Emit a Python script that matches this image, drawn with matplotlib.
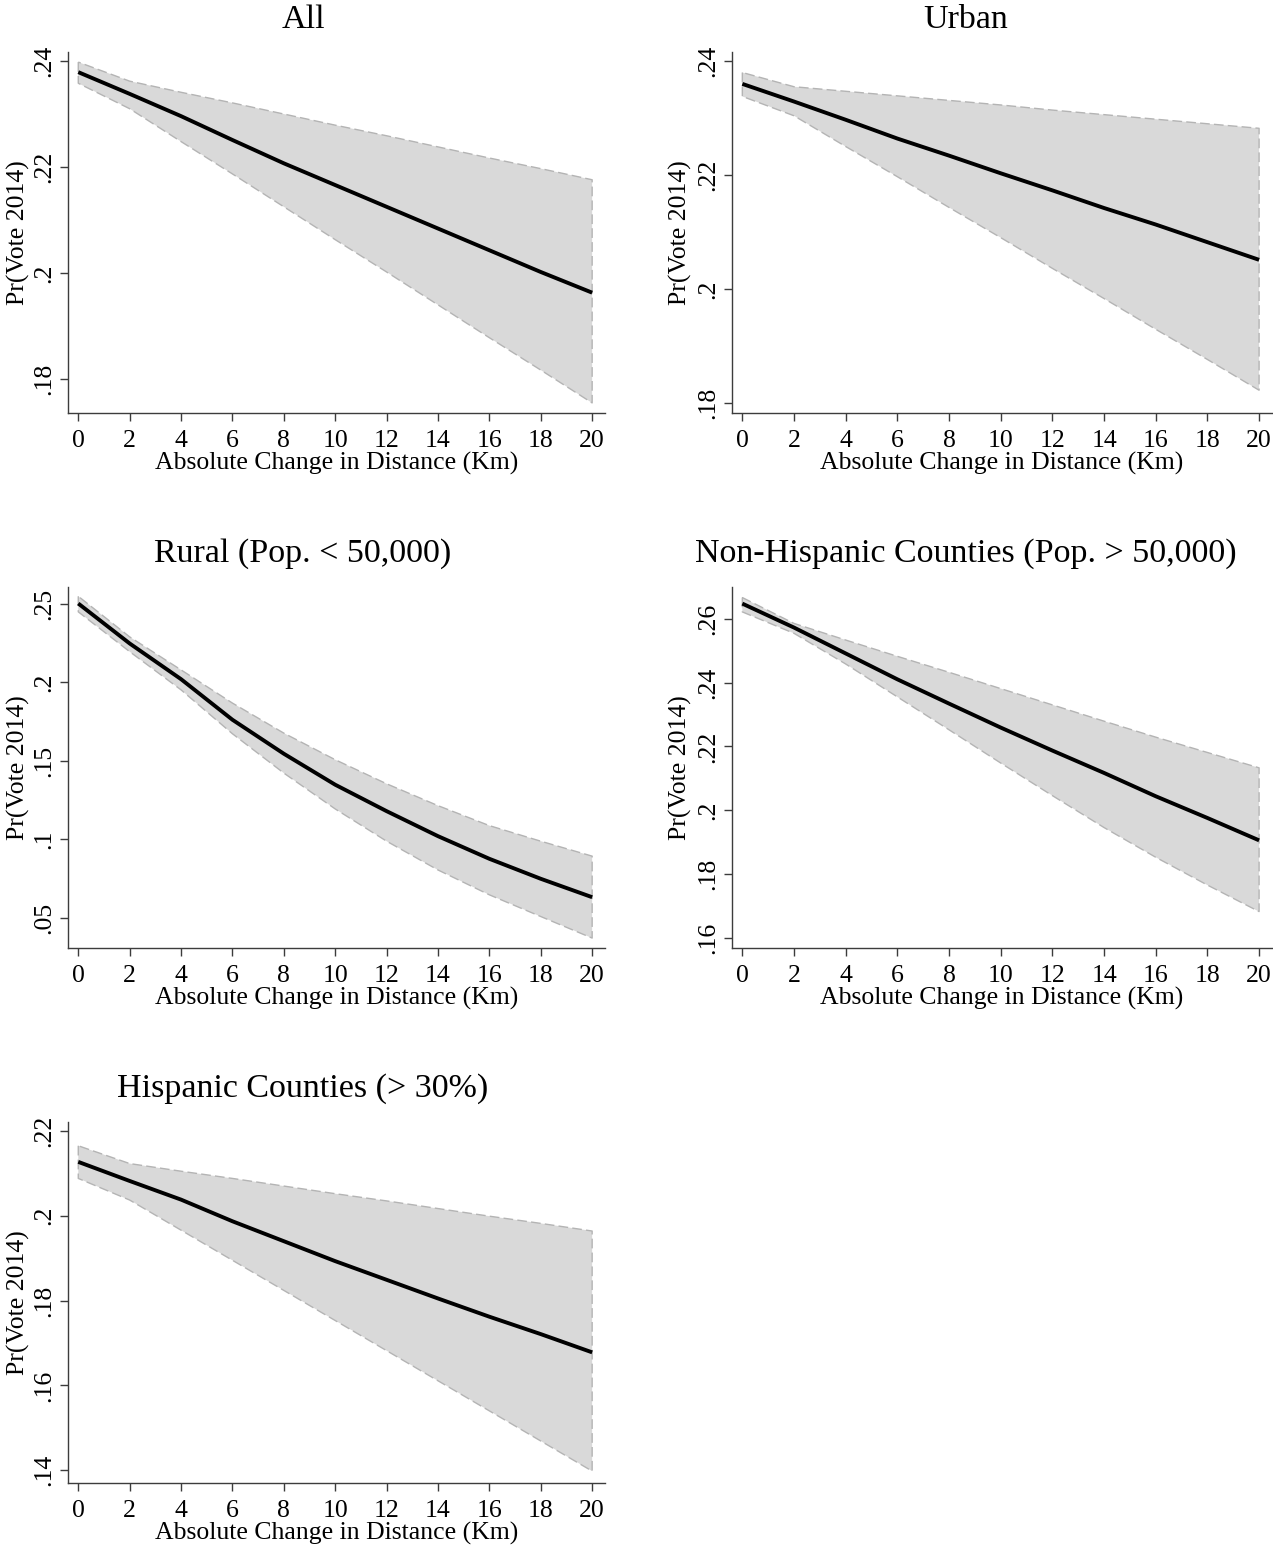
import matplotlib
matplotlib.use("Agg")
import matplotlib.pyplot as plt
import numpy as np

plt.rcParams['font.family'] = ['Liberation Serif', 'DejaVu Serif']

W, H = 1273, 1548
x_km = [0, 2, 4, 6, 8, 10, 12, 14, 16, 18, 20]

titles = ["All", "Urban", "Rural (Pop. < 50,000)",
          "Non-Hispanic Counties (Pop. > 50,000)", "Hispanic Counties (> 30%)"]

all_mid = [.2379, .2338, .2296, .2251, .2207, .2166, .2125, .2084, .2043, .2002, .1963]
all_hi = [.2398, .2362, .2341, .2321, .2300, .2279, .2259, .2238, .2217, .2197, .2176]
all_lo = [.2358, .2310, .2248, .2187, .2125, .2063, .2002, .1940, .1878, .1817, .1755]

urb_mid = [.2360, .2329, .2297, .2264, .2234, .2203, .2173, .2142, .2113, .2082, .2051]
urb_hi = [.2380, .2355, .2347, .2339, .2331, .2323, .2314, .2306, .2298, .2290, .2282]
urb_lo = [.2338, .2304, .2250, .2197, .2143, .2090, .2036, .1983, .1929, .1876, .1822]

rur_mid = [.2500, .2246, .2019, .1761, .1545, .1348, .1180, .1021, .0877, .0750, .0633]
rur_hi = [.2546, .2288, .2078, .1867, .1676, .1507, .1354, .1215, .1088, .0989, .0894]
rur_lo = [.2447, .2194, .1951, .1672, .1422, .1194, .0989, .0806, .0648, .0510, .0373]

nh_mid = [.2647, .2572, .2491, .2410, .2334, .2259, .2187, .2117, .2044, .1976, .1906]
nh_hi = [.2666, .2585, .2533, .2482, .2432, .2381, .2330, .2279, .2229, .2181, .2133]
nh_lo = [.2621, .2554, .2458, .2355, .2252, .2148, .2046, .1946, .1853, .1766, .1683]

his_mid = [.2127, .2082, .2038, .1987, .1940, .1893, .1849, .1805, .1762, .1721, .1678]
his_hi = [.2165, .2123, .2105, .2088, .2070, .2052, .2035, .2017, .1999, .1982, .1964]
his_lo = [.2088, .2037, .1966, .1895, .1824, .1753, .1682, .1611, .1540, .1469, .1398]

yticks_all = [.18, .20, .22, .24]
yticks_urb = [.18, .20, .22, .24]
yticks_rur = [.05, .10, .15, .20, .25]
yticks_nh = [.16, .18, .20, .22, .24, .26]
yticks_his = [.14, .16, .18, .20, .22]

ylabs_all = [".18", ".2", ".22", ".24"]
ylabs_urb = [".18", ".2", ".22", ".24"]
ylabs_rur = [".05", ".1", ".15", ".2", ".25"]
ylabs_nh = [".16", ".18", ".2", ".22", ".24", ".26"]
ylabs_his = [".14", ".16", ".18", ".2", ".22"]

xticks = [0, 2, 4, 6, 8, 10, 12, 14, 16, 18, 20]

panels = [
    # title, mid, hi, lo, yticks, ylabs, ylim, axes box px (l, t, r, b), title anchor px (x centre, baseline y), ylabel centre x px
    (titles[0], all_mid, all_hi, all_lo, yticks_all, ylabs_all, (.1736, .2417), (68, 52, 605, 413), (303, 28), 18),
    (titles[1], urb_mid, urb_hi, urb_lo, yticks_urb, ylabs_urb, (.1782, .2416), (732, 52, 1272, 413), (966, 28), 680),
    (titles[2], rur_mid, rur_hi, rur_lo, yticks_rur, ylabs_rur, (.031, .2605), (68, 587, 605, 948), (303, 562), 18),
    (titles[3], nh_mid, nh_hi, nh_lo, yticks_nh, ylabs_nh, (.1569, .2699), (732, 587, 1272, 948), (966, 562), 680),
    (titles[4], his_mid, his_hi, his_lo, yticks_his, ylabs_his, (.1370, .2221), (68, 1122, 605, 1483), (303, 1097), 18),
]

fig = plt.figure(figsize=(W / 100, H / 100), dpi=100)
spine_col = '#3c3c3c'

for title, mid, hi, lo, yt, yl, ylim, (l, t, r, b), (tx, ty), ylx in panels:
    ax = fig.add_axes([l / W, 1 - b / H, (r - l) / W, (b - t) / H])
    ax.fill_between(x_km, lo, hi, facecolor='#d9d9d9', edgecolor='#b4b4b4',
                    linestyle=(0, (7, 3)), linewidth=1.0, zorder=1)
    ax.plot(x_km, mid, color='black', linewidth=2.8, zorder=3,
            solid_capstyle='butt', solid_joinstyle='round')
    ax.set_xlim(-0.4, 20.5)
    ax.set_ylim(*ylim)
    ax.set_xticks(xticks)
    ax.set_xticklabels([str(v) for v in xticks])
    ax.set_yticks(yt)
    ax.set_yticklabels(yl, rotation=90, va='center')
    for s in ['top', 'right']:
        ax.spines[s].set_visible(False)
    for s in ['left', 'bottom']:
        ax.spines[s].set_color(spine_col)
        ax.spines[s].set_linewidth(1.0)
    ax.tick_params(axis='both', direction='out', length=6, width=1.0,
                   color=spine_col, labelsize=18.5)
    ax.tick_params(axis='x', pad=6)
    ax.tick_params(axis='y', pad=3)
    ax.set_xlabel("Absolute Change in Distance (Km)", fontsize=18.5, labelpad=0)
    ylab = ax.set_ylabel("Pr(Vote 2014)", fontsize=18.5, va='center')
    ax.yaxis.set_label_coords((ylx - l) / (r - l), 0.5)
    fig.text(tx / W, 1 - ty / H, title, fontsize=24.5, ha='center', va='baseline')

fig.savefig("out.png", dpi=100, facecolor='white')
